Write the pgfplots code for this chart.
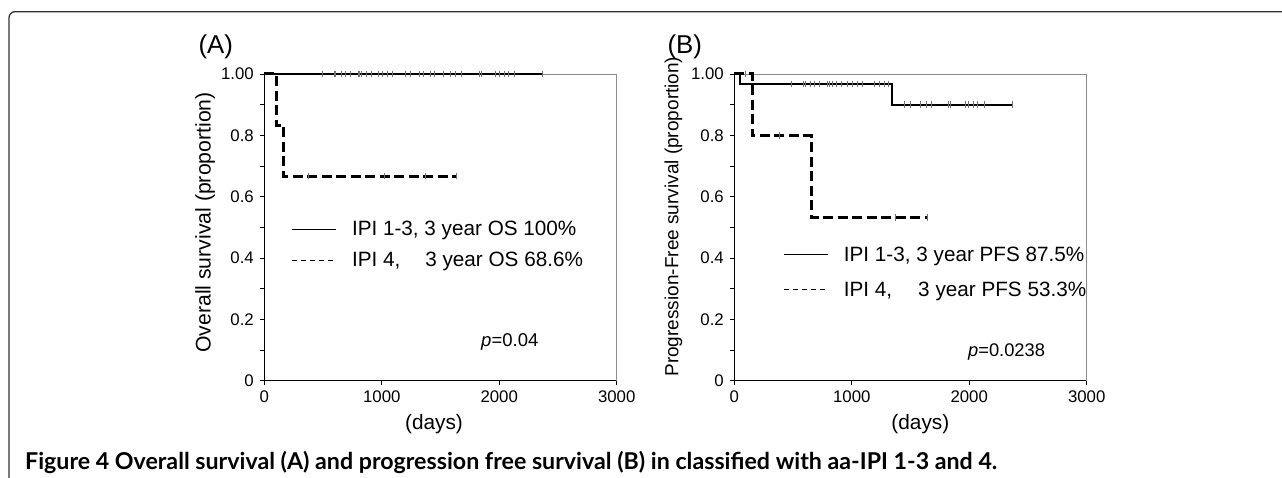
\documentclass[border=0pt]{standalone}
\usepackage{fontspec}
\setmainfont{Liberation Sans}
\newfontfamily\capfont{Lato}
\usepackage{pgfplots}
\pgfplotsset{compat=1.18}

\pgfplotsset{kmaxis/.style={
  scale only axis, width=352.4bp, height=306.7bp,
  anchor=origin,
  xmin=0,xmax=3000,ymin=0,ymax=1,
  axis lines*=left,
  axis line style={black, line width=1.5bp, -},
  xtick={0,1000,2000,3000},
  xticklabels={0,1000,2000,3000},
  ytick={0,0.2,0.4,0.6,0.8,1},
  yticklabels={0,0.2,0.4,0.6,0.8,1.00},
  minor ytick={0.1,0.3,0.5,0.7,0.9},
  tick align=outside,
  major tick length=4bp, minor tick length=4bp,
  every tick/.style={black, line width=0.8bp},
  tick label style={font=\fontsize{16.8bp}{19bp}\selectfont},
  yticklabel style={xshift=-3bp},
  xticklabel style={yshift=-3bp},
  /pgf/number format/assume math mode=true,
  xlabel style={font=\fontsize{20.8bp}{24bp}\selectfont, anchor=center},
  ylabel style={anchor=center},
  legend style={draw=none, fill=none, font=\fontsize{20.7bp}{24bp}\selectfont, anchor=west, inner sep=0pt,
    /tikz/every odd column/.append style={column sep=14bp}},
  legend cell align=left,
  legend image code/.code={\draw[#1] (0bp,0bp) -- (44bp,0bp);},
  clip=false,
}}

\begin{document}
\begin{tikzpicture}
\useasboundingbox (0,0) rectangle (1282bp,478bp);
% frame
\draw[line width=1.3bp, black!80, rounded corners=6bp] (9bp,-2bp) -- (9bp,466.3bp) -- (1284bp,466.3bp);

% ---------------- Panel A ----------------
\begin{axis}[kmaxis, at={(264.3bp,97.3bp)},
  xlabel={(days)}, xlabel style={at={(rel axis cs:0.4816,-0.141)}},
  ylabel={Overall survival (proportion)}, ylabel style={at={(rel axis cs:-0.168,0.516)}, font=\fontsize{21.2bp}{24bp}\selectfont},
  legend style={at={(rel axis cs:0.0758,0.4425)}, row sep=11bp}]
\draw[black!45, line width=0.7bp] (rel axis cs:0,1) -- (rel axis cs:1,1) -- (rel axis cs:1,0);
\addlegendimage{black, line width=0.8bp}
\addlegendentry{IPI 1-3, 3 year OS 100\%}
\addlegendimage{black, line width=0.8bp, dash pattern=on 5bp off 4bp}
\addlegendentry{IPI 4,\hspace{25bp}3 year OS 68.6\%}
% IPI 1-3 solid
\addplot[forget plot, black, line width=2.2bp, const plot] coordinates {(0,1) (2367,1)};
\addplot[forget plot, only marks, mark=|, mark size=3.3bp, mark options={black!55, line width=0.7bp}] coordinates {
(497,1)(596,1)(608,1)(653,1)(693,1)(730,1)(800,1)(812,1)(829,1)(866,1)(908,1)(974,1)(1005,1)(1047,1)(1090,1)(1204,1)(1240,1)(1317,1)(1354,1)(1417,1)(1451,1)(1527,1)(1587,1)(1629,1)(1680,1)(1828,1)(1845,1)(1970,1)(1998,1)(2043,1)(2075,1)(2126,1)(2367,1)};
% IPI 4 dashed
\addplot[forget plot, black, line width=3bp, dash pattern=on 10bp off 4.5bp, const plot] coordinates {(0,1) (105,0.833) (162,0.667) (1643,0.667)};
\addplot[forget plot, only marks, mark=|, mark size=3.3bp, mark options={black!55, line width=0.7bp}] coordinates {(375,0.667)(1022,0.667)(1368,0.667)(1638,0.667)};
\node[anchor=base west, inner sep=0pt, font=\fontsize{18.5bp}{22bp}\selectfont] at (axis cs:1845,0.11) {\textit{p}=0.04};
\end{axis}
\node[anchor=base west, inner sep=0pt, font=\fontsize{25.8bp}{30bp}\selectfont] at (198.3bp,424.7bp) {(A)};

% ---------------- Panel B ----------------
\begin{axis}[kmaxis, at={(734.3bp,97.3bp)},
  xlabel={(days)}, xlabel style={at={(rel axis cs:0.528,-0.141)}},
  ylabel={Progression-Free survival (proportion)}, ylabel style={at={(rel axis cs:-0.173,0.535)}, font=\fontsize{19bp}{24bp}\selectfont},
  legend style={at={(rel axis cs:0.138,0.354)}, row sep=15bp}]
\draw[black!45, line width=0.7bp] (rel axis cs:0,1) -- (rel axis cs:1,1) -- (rel axis cs:1,0);
\addlegendimage{black, line width=0.8bp}
\addlegendentry{IPI 1-3, 3 year PFS 87.5\%}
\addlegendimage{black, line width=0.8bp, dash pattern=on 5bp off 4bp}
\addlegendentry{IPI 4,\hspace{26bp}3 year PFS 53.3\%}
% IPI 1-3 solid
\addplot[forget plot, black, line width=2.2bp, const plot] coordinates {(0,1) (48,0.968) (1345,0.90) (2367,0.90)};
\addplot[forget plot, only marks, mark=|, mark size=3.3bp, mark options={black!55, line width=0.7bp}] coordinates {
(489,0.968)(587,0.968)(602,0.968)(644,0.968)(681,0.968)(724,0.968)(795,0.968)(809,0.968)(834,0.968)(872,0.968)(908,0.968)(965,0.968)(1008,0.968)(1050,0.968)(1090,0.968)(1192,0.968)(1234,0.968)(1274,0.968)(1311,0.968)
(1445,0.90)(1502,0.90)(1581,0.90)(1632,0.90)(1680,0.90)(1822,0.90)(1836,0.90)(1964,0.90)(1992,0.90)(2035,0.90)(2069,0.90)(2126,0.90)(2367,0.90)};
% IPI 4 dashed
\addplot[forget plot, black, line width=3bp, dash pattern=on 10bp off 4.5bp, const plot] coordinates {(0,1) (153,0.8) (653,0.533) (1643,0.533)};
\addplot[forget plot, only marks, mark=|, mark size=3.3bp, mark options={black!55, line width=0.7bp}] coordinates {(91,1)(383,0.8)(1368,0.533)(1643,0.533)};
\node[anchor=base west, inner sep=0pt, font=\fontsize{18.3bp}{22bp}\selectfont] at (axis cs:1989,0.0805) {\textit{p}=0.0238};
\end{axis}
\node[anchor=base west, inner sep=0pt, font=\fontsize{25.8bp}{30bp}\selectfont] at (667.3bp,424.7bp) {(B)};

% caption
\node[anchor=base west, inner sep=0pt, font=\capfont\bfseries\fontsize{23.2bp}{26bp}\selectfont] at (25bp,9bp) {Figure 4 Overall survival (A) and progression free survival (B) in classified with aa-IPI 1-3 and 4.};
\end{tikzpicture}
\end{document}
